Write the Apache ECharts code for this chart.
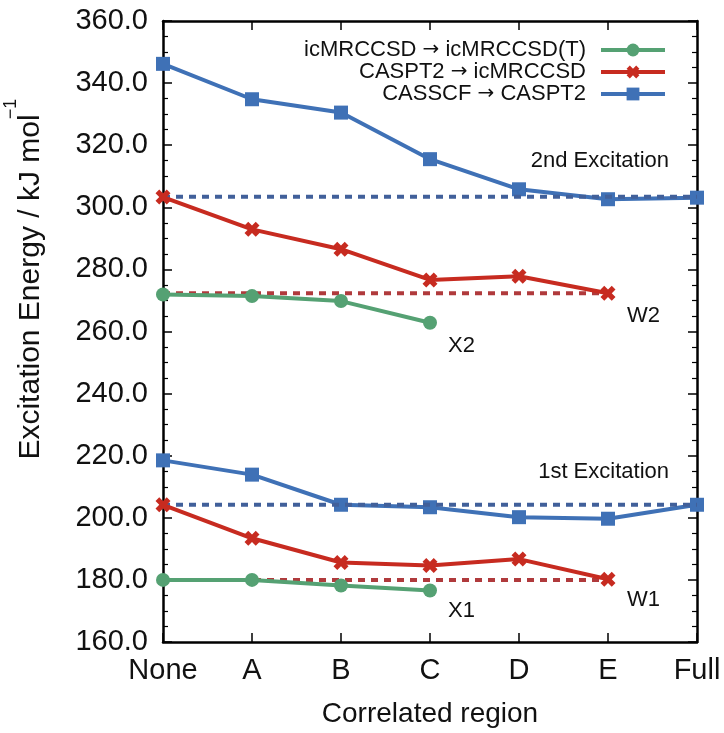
<!DOCTYPE html>
<html>
<head>
<meta charset="utf-8">
<script src="https://cdn.jsdelivr.net/npm/echarts@6/dist/echarts.min.js"></script>
<style>
html,body{margin:0;padding:0;background:#fff;}
#c{width:724px;height:733px;}
</style>
</head>
<body>
<div id="c"></div>
<script>
var categories = ['None', 'A', 'B', 'C', 'D', 'E', 'Full'];
var yTicks = [160, 360, 20];
// 2nd excitation
var casscf2 = [346.2, 334.8, 330.5, 315.5, 305.8, 302.6, 303.1];
var caspt2_2 = [303.3, 292.9, 286.5, 276.6, 277.8, 272.3, null];
var icmr2 = [271.9, 271.4, 269.8, 262.8, null, null, null];
var ref2Full = [303.4, 303.4, 303.4, 303.4, 303.4, 303.4, 303.4];
var ref2W = [272.3, 272.3, 272.3, 272.3, 272.3, 272.3, null];
// 1st excitation
var casscf1 = [218.5, 213.9, 204.2, 203.4, 200.2, 199.7, 204.2];
var caspt2_1 = [204.2, 193.4, 185.6, 184.6, 186.7, 180.2, null];
var icmr1 = [180.0, 180.0, 178.2, 176.6, null, null, null];
var ref1Full = [204.2, 204.2, 204.2, 204.2, 204.2, 204.2, 204.2];
var ref1W = [180.0, 180.0, 180.0, 180.0, 180.0, 180.0, null];

var names = ['icMRCCSD \u2192 icMRCCSD(T)', 'CASPT2 \u2192 icMRCCSD', 'CASSCF \u2192 CASPT2'];
var GREEN = '#55a173', RED = '#c72b20', BLUE = '#3f71b6';
var BLUE_DOT = '#41609a', RED_DOT = '#b03a3c';
var FONT = 'Liberation Sans, Arial, sans-serif';
var crossPath = 'path://M0,2.5 L2.5,0 L5,2.5 L7.5,0 L10,2.5 L7.5,5 L10,7.5 L7.5,10 L5,7.5 L2.5,10 L0,7.5 L2.5,5 Z';

function solid(name, data, color, symbol, size, z) {
  return {
    type: 'line', name: name, data: data, z: z,
    symbol: symbol, symbolSize: size, showSymbol: true,
    lineStyle: {color: color, width: 4},
    itemStyle: {color: color},
    connectNulls: false, animation: false
  };
}
function dotted(data, color, z) {
  return {
    type: 'line', data: data, z: z, symbol: 'none', silent: true,
    lineStyle: {color: color, width: 4, type: [7, 6]},
    animation: false
  };
}

var chart = echarts.init(document.getElementById('c'), null, {renderer: 'canvas'});
var axisCommon = {
  axisLine: {show: true, lineStyle: {color: '#000', width: 2.5}},
  axisTick: {show: true, inside: true, length: 9, lineStyle: {color: '#000', width: 1.5}},
  splitLine: {show: false}
};
chart.setOption({
  backgroundColor: '#fff',
  animation: false,
  textStyle: {fontFamily: FONT},
  grid: {left: 163, right: 27, top: 21, bottom: 91, containLabel: false},
  legend: {
    data: names, orient: 'vertical', align: 'right', right: 52, top: 34,
    itemWidth: 64, itemHeight: 16, itemGap: 0,
    lineStyle: {width: 4},
    formatter: function (n) {
      var p = n.split('\u2192');
      return '{t|' + p[0] + '}{ar|\u2192}{t|' + p[1] + '}';
    },
    textStyle: {fontSize: 22, fontFamily: FONT, color: '#111', padding: [0, 10, 0, 0],
      rich: {
        t: {fontSize: 22, fontFamily: FONT, color: '#111'},
        ar: {fontSize: 20, fontFamily: 'DejaVu Sans', color: '#111'}
      }}
  },
  xAxis: [
    Object.assign({}, axisCommon, {
      type: 'category', data: categories, boundaryGap: false, position: 'bottom',
      axisLabel: {fontSize: 29, color: '#111', margin: 14, fontFamily: FONT, interval: 0, hideOverlap: false},
      axisTick: {show: true, inside: true, length: 9, interval: 0, lineStyle: {color: '#000', width: 1.5}},
      name: 'Correlated region', nameLocation: 'middle', nameGap: 58,
      nameTextStyle: {fontSize: 28, color: '#111', fontFamily: FONT}
    }),
    Object.assign({}, axisCommon, {
      type: 'category', data: categories, boundaryGap: false, position: 'top',
      axisTick: {show: true, inside: true, length: 9, interval: 0, lineStyle: {color: '#000', width: 1.5}},
      axisLabel: {show: false}
    })
  ],
  yAxis: [
    Object.assign({}, axisCommon, {
      type: 'value', min: yTicks[0], max: yTicks[1], interval: yTicks[2], position: 'left',
      axisLabel: {fontSize: 29, color: '#111', margin: 15, fontFamily: FONT,
        formatter: function (v) { return v.toFixed(1); }},
      minorTick: {show: true, splitNumber: 4, length: 5, lineStyle: {color: '#000', width: 1.2}}
    }),
    Object.assign({}, axisCommon, {
      type: 'value', min: yTicks[0], max: yTicks[1], interval: yTicks[2], position: 'right',
      axisLabel: {show: false},
      minorTick: {show: true, splitNumber: 4, length: 5, lineStyle: {color: '#000', width: 1.2}}
    })
  ],
  series: [
    dotted(ref2W, RED_DOT, 1),
    dotted(ref1W, RED_DOT, 1),
    solid(names[0], icmr2, GREEN, 'circle', 14, 4),
    solid(names[1], caspt2_2, RED, crossPath, 15, 3),
    solid(names[2], casscf2, BLUE, 'rect', 14, 2),
    solid(names[0], icmr1, GREEN, 'circle', 14, 4),
    solid(names[1], caspt2_1, RED, crossPath, 15, 3),
    solid(names[2], casscf1, BLUE, 'rect', 14, 2),
    dotted(ref2Full, BLUE_DOT, 2.5),
    dotted(ref1Full, BLUE_DOT, 2.5)
  ],
  graphic: [
    {type: 'text', x: 31, y: 287, rotation: Math.PI / 2,
      style: {text: 'Excitation Energy / kJ mol', fontSize: 30, fontFamily: FONT, fill: '#111',
        align: 'center', verticalAlign: 'middle'}},
    {type: 'text', x: 11, y: 109, rotation: Math.PI / 2,
      style: {text: '\u22121', fontSize: 18, fontFamily: FONT, fill: '#111',
        align: 'center', verticalAlign: 'middle'}},
    {type: 'text', x: 669, y: 161, style: {text: '2nd Excitation', fontSize: 22, fontFamily: FONT, fill: '#111', align: 'right', verticalAlign: 'middle'}},
    {type: 'text', x: 669, y: 472, style: {text: '1st Excitation', fontSize: 22, fontFamily: FONT, fill: '#111', align: 'right', verticalAlign: 'middle'}},
    {type: 'text', x: 627, y: 316, style: {text: 'W2', fontSize: 22, fontFamily: FONT, fill: '#111', align: 'left', verticalAlign: 'middle'}},
    {type: 'text', x: 448, y: 346, style: {text: 'X2', fontSize: 22, fontFamily: FONT, fill: '#111', align: 'left', verticalAlign: 'middle'}},
    {type: 'text', x: 627, y: 600, style: {text: 'W1', fontSize: 22, fontFamily: FONT, fill: '#111', align: 'left', verticalAlign: 'middle'}},
    {type: 'text', x: 448, y: 611, style: {text: 'X1', fontSize: 22, fontFamily: FONT, fill: '#111', align: 'left', verticalAlign: 'middle'}}
  ]
});
</script>
</body>
</html>
